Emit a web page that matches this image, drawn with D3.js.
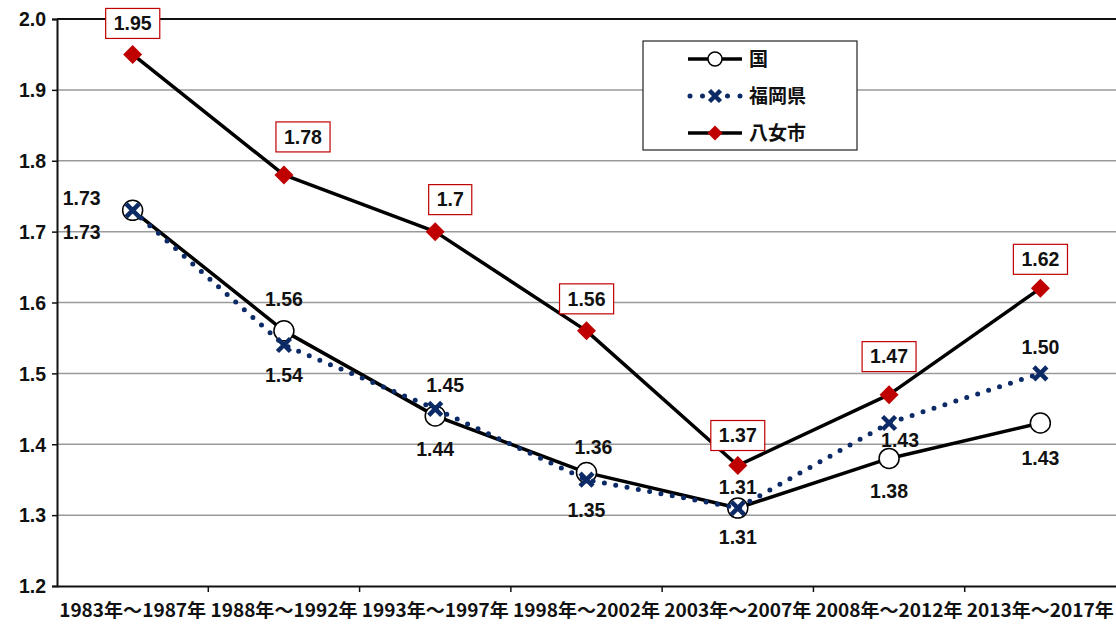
<!DOCTYPE html>
<html>
<head>
<meta charset="utf-8">
<script src="https://cdn.jsdelivr.net/npm/d3@7"></script>
<style>
  html, body { margin: 0; padding: 0; background: #fff; }
  svg { display: block; }
  .num { font-family: "Liberation Sans", Arial, sans-serif; font-weight: bold; font-size: 19.5px; fill: #111; }
  .jp { font-family: "Noto Sans CJK JP", sans-serif; font-weight: bold; fill: #111; }
</style>
</head>
<body>
<svg id="chart" width="1116" height="624"></svg>
<script>
// Periods (x categories)
const periods = ["1983年～1987年", "1988年～1992年", "1993年～1997年", "1998年～2002年",
                 "2003年～2007年", "2008年～2012年", "2013年～2017年"];

// Total fertility rate by area
const national = [1.73, 1.56, 1.44, 1.36, 1.31, 1.38, 1.43];   // 国
const fukuoka  = [1.73, 1.54, 1.45, 1.35, 1.31, 1.43, 1.50];   // 福岡県
const yame     = [1.95, 1.78, 1.70, 1.56, 1.37, 1.47, 1.62];   // 八女市
const yameLabels = ["1.95", "1.78", "1.7", "1.56", "1.37", "1.47", "1.62"];

const yTicks = [1.2, 1.3, 1.4, 1.5, 1.6, 1.7, 1.8, 1.9, 2.0];

// Label offsets (pixels from the point) for each series
const nationalOffsets = [[-51, -12], [0, -32], [0, 33], [7, -25], [0, -21], [0, 33], [0, 35]];
const fukuokaOffsets  = [[-51, 22], [0, 30], [10, -24], [0, 30], [0, 29], [11, 17], [0, -26]];
const yameOffsets     = [[0, -31], [19, -38], [15, -32], [0, -32], [0, -30], [0, -38], [0, -29]];

const svg = d3.select("#chart");
const plotLeft = 57, plotRight = 1116, plotTop = 19, plotBottom = 586;

const x = d3.scaleBand().domain(periods).range([plotLeft, plotRight]).padding(0);
const y = d3.scaleLinear().domain([1.2, 2.0]).range([plotBottom, plotTop]);
const cx = (i) => x(periods[i]) + x.bandwidth() / 2;

// Horizontal gridlines
svg.append("g")
  .selectAll("line")
  .data(yTicks.filter(t => t > 1.2 && t < 2.0))
  .join("line")
  .attr("x1", plotLeft).attr("x2", plotRight)
  .attr("y1", d => y(d)).attr("y2", d => y(d))
  .attr("stroke", "#9a9a9a").attr("stroke-width", 1.5);

// Top border line at 2.0
svg.append("line")
  .attr("x1", plotLeft).attr("x2", plotRight)
  .attr("y1", y(2.0)).attr("y2", y(2.0))
  .attr("stroke", "#111").attr("stroke-width", 2);

// Y axis
const yAxis = svg.append("g")
  .attr("transform", `translate(${plotLeft},0)`)
  .call(d3.axisLeft(y).tickValues(yTicks).tickFormat(d3.format(".1f")).tickSize(5).tickPadding(6));
yAxis.select(".domain").attr("stroke", "#111").attr("stroke-width", 2);
yAxis.selectAll(".tick line").attr("stroke", "#111").attr("stroke-width", 1.5);
yAxis.selectAll(".tick text").attr("class", "num").attr("fill", "#111").attr("dy", "0.35em");

// X axis
const xAxis = svg.append("g")
  .attr("transform", `translate(0,${plotBottom})`)
  .call(d3.axisBottom(x).tickSize(0).tickPadding(0));
xAxis.select(".domain").attr("stroke", "#111").attr("stroke-width", 2);
xAxis.selectAll(".tick text")
  .attr("class", "jp")
  .attr("font-size", 18)
  .attr("y", 31)
  .attr("dy", 0)
  .attr("textLength", 147)
  .attr("lengthAdjust", "spacingAndGlyphs");
// Tick marks at the category boundaries
svg.append("g")
  .selectAll("line")
  .data(periods.slice(1))
  .join("line")
  .attr("x1", d => x(d)).attr("x2", d => x(d))
  .attr("y1", plotBottom).attr("y2", plotBottom + 6)
  .attr("stroke", "#111").attr("stroke-width", 1.5);

const line = d3.line().x((d, i) => cx(i)).y(d => y(d));

// 国: solid black line, white circles
svg.append("path").datum(national)
  .attr("d", line).attr("fill", "none")
  .attr("stroke", "#000").attr("stroke-width", 3.5).attr("stroke-linejoin", "round");
svg.append("g").selectAll("circle").data(national).join("circle")
  .attr("cx", (d, i) => cx(i)).attr("cy", d => y(d)).attr("r", 10)
  .attr("fill", "#fff").attr("stroke", "#000").attr("stroke-width", 1.5);

// 福岡県: navy dotted line, X markers
const navy = "#0b2a66";
svg.append("path").datum(fukuoka)
  .attr("d", line).attr("fill", "none")
  .attr("stroke", navy).attr("stroke-width", 5)
  .attr("stroke-linecap", "round").attr("stroke-dasharray", "0,11.5");
const xMark = (s) => `M${-s},${-s}L${s},${s}M${-s},${s}L${s},${-s}`;
svg.append("g").selectAll("path").data(fukuoka).join("path")
  .attr("transform", (d, i) => `translate(${cx(i)},${y(d)})`)
  .attr("d", xMark(6.5))
  .attr("stroke", navy).attr("stroke-width", 4.5).attr("fill", "none");

// 八女市: solid black line, red diamonds
const red = "#c00000";
svg.append("path").datum(yame)
  .attr("d", line).attr("fill", "none")
  .attr("stroke", "#000").attr("stroke-width", 3.5).attr("stroke-linejoin", "round");
const diamond = (s) => `M0,${-s}L${s},0L0,${s}L${-s},0Z`;
svg.append("g").selectAll("path").data(yame).join("path")
  .attr("transform", (d, i) => `translate(${cx(i)},${y(d)})`)
  .attr("d", diamond(9.5)).attr("fill", red);

// Value labels: 国 and 福岡県
function plainLabels(values, offsets) {
  svg.append("g").selectAll("text").data(values).join("text")
    .attr("class", "num")
    .attr("x", (d, i) => cx(i) + offsets[i][0])
    .attr("y", (d, i) => y(d) + offsets[i][1])
    .attr("text-anchor", "middle").attr("dy", "0.35em")
    .text(d => d.toFixed(2));
}
plainLabels(national, nationalOffsets);
plainLabels(fukuoka, fukuokaOffsets);

// Value labels: 八女市 in red-bordered boxes
const boxG = svg.append("g").selectAll("g").data(yame).join("g")
  .attr("transform", (d, i) => `translate(${cx(i) + yameOffsets[i][0]},${y(d) + yameOffsets[i][1]})`);
boxG.append("text")
  .attr("class", "num").attr("text-anchor", "middle").attr("dy", "0.35em")
  .text((d, i) => yameLabels[i]);
boxG.each(function() {
  const g = d3.select(this);
  const bb = g.select("text").node().getBBox();
  g.insert("rect", "text")
    .attr("x", bb.x - 8).attr("y", -15)
    .attr("width", bb.width + 16).attr("height", 30)
    .attr("fill", "#fff").attr("stroke", red).attr("stroke-width", 1.2);
});

// Legend
const legend = svg.append("g").attr("transform", "translate(643,41)");
legend.append("rect").attr("width", 214).attr("height", 109)
  .attr("fill", "#fff").attr("stroke", "#222").attr("stroke-width", 1.2);
const legendItems = [
  { name: "国", y: 18 },
  { name: "福岡県", y: 55 },
  { name: "八女市", y: 92 }
];
// 国
legend.append("line").attr("x1", 45).attr("x2", 99).attr("y1", 18).attr("y2", 18)
  .attr("stroke", "#000").attr("stroke-width", 3.5);
legend.append("circle").attr("cx", 72).attr("cy", 18).attr("r", 7)
  .attr("fill", "#fff").attr("stroke", "#000").attr("stroke-width", 1.5);
// 福岡県
legend.append("line").attr("x1", 47).attr("x2", 99).attr("y1", 55).attr("y2", 55)
  .attr("stroke", navy).attr("stroke-width", 5)
  .attr("stroke-linecap", "round").attr("stroke-dasharray", "0,12.5");
legend.append("path").attr("transform", "translate(72,55)").attr("d", xMark(5.5))
  .attr("stroke", navy).attr("stroke-width", 4.5).attr("fill", "#fff");
// 八女市
legend.append("line").attr("x1", 45).attr("x2", 99).attr("y1", 92).attr("y2", 92)
  .attr("stroke", "#000").attr("stroke-width", 3.5);
legend.append("path").attr("transform", "translate(72,92)").attr("d", diamond(7.5)).attr("fill", red);

legend.selectAll("text.lg").data(legendItems).join("text")
  .attr("class", "jp lg").attr("font-size", 19)
  .attr("x", 106).attr("y", d => d.y).attr("dy", "0.36em")
  .text(d => d.name);
</script>
</body>
</html>
